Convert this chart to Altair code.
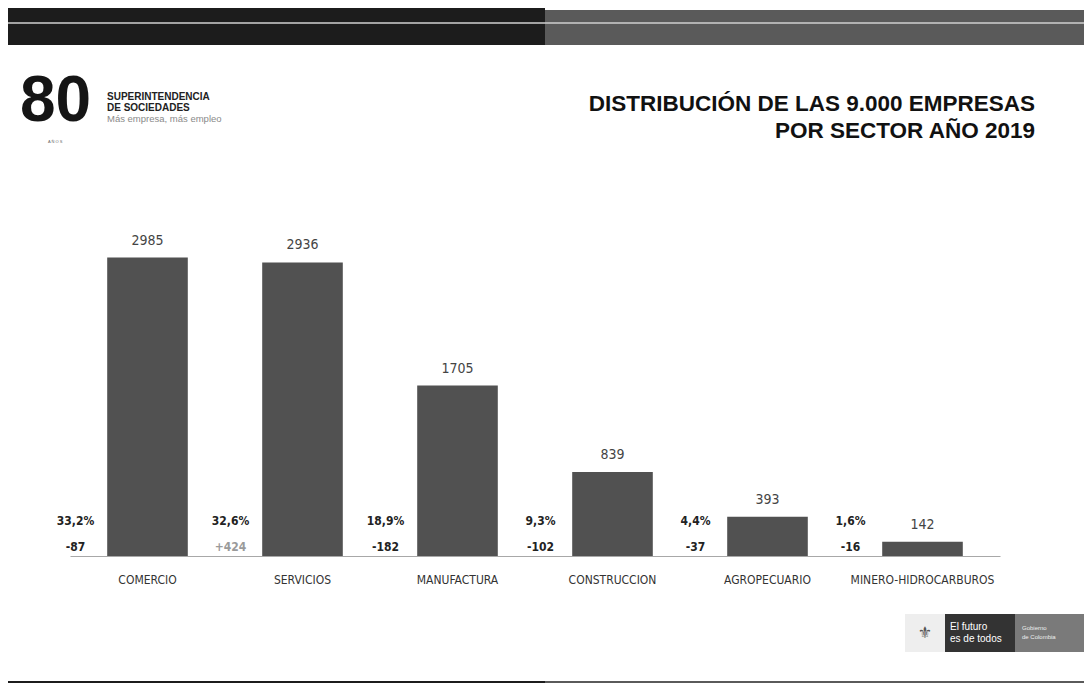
import altair as alt
import pandas as pd

sectores = ["COMERCIO", "SERVICIOS", "MANUFACTURA", "CONSTRUCCION", "AGROPECUARIO", "MINERO-HIDROCARBUROS"]
empresas = [2985, 2936, 1705, 839, 393, 142]
participacion = ["33,2%", "32,6%", "18,9%", "9,3%", "4,4%", "1,6%"]
variacion = [-87, 424, -182, -102, -37, -16]

def fmt_var(v):
    return f"+{v}" if v > 0 else str(v)

df = pd.DataFrame({
    "sector": sectores,
    "empresas": empresas,
    "pct": participacion,
    "var": variacion,
    "var_txt": [fmt_var(v) for v in variacion],
})

NARROW = "Liberation Sans Narrow, Arial Narrow, DejaVu Sans Condensed, sans-serif"
SANS = "Liberation Sans, Arial, sans-serif"

x = alt.X("sector:N", sort=sectores,
          scale=alt.Scale(paddingInner=0.48, paddingOuter=0.24),
          axis=alt.Axis(title=None, labelAngle=0, ticks=False, domainColor="#a8a8a8",
                        domainWidth=1.2, labelPadding=18, labelFontSize=12,
                        labelFont=NARROW, labelColor="#333333"))
y = alt.Y("empresas:Q", scale=alt.Scale(domain=[0, 3560], nice=False), axis=None)

base = alt.Chart(df)

bars = base.mark_bar(color="#515151").encode(x=x, y=y)

values = base.mark_text(baseline="bottom", dy=-10, fontSize=14, font=NARROW, color="#444444").encode(
    x=alt.X("sector:N", sort=sectores), y=y, text="empresas:Q")

pct = base.mark_text(dx=-72, fontSize=12, fontWeight="bold", font=NARROW, color="#222222",
                     baseline="middle").encode(
    x=alt.X("sector:N", sort=sectores), y=alt.value(321), text="pct:N")

var = base.mark_text(dx=-72, fontSize=12, fontWeight="bold", font=NARROW,
                     baseline="middle").encode(
    x=alt.X("sector:N", sort=sectores), y=alt.value(347), text="var_txt:N",
    color=alt.condition(alt.datum["var"] > 0, alt.value("#9a9a9a"), alt.value("#222222")))

# decorative frame / header elements
def rect(x1, x2, y1, y2, color):
    return alt.Chart(pd.DataFrame({"a": [0]})).mark_rect(color=color).encode(
        x=alt.value(x1), x2=alt.value(x2), y=alt.value(y1), y2=alt.value(y2))

def txt(s, xp, yp, size, weight="normal", color="#111111", align="left", font=SANS):
    return alt.Chart(pd.DataFrame({"t": [s]})).mark_text(
        align=align, baseline="middle", fontSize=size, fontWeight=weight, color=color, font=font
    ).encode(x=alt.value(xp), y=alt.value(yp), text="t:N")

deco = [
    rect(-62, 475, -192, -155, "#1c1c1c"),
    rect(475, 1014, -190, -155, "#5a5a5a"),
    alt.Chart(pd.DataFrame({"a": [0]})).mark_rule(color="#d0d0d0", strokeWidth=1.5).encode(
        x=alt.value(-62), x2=alt.value(1014), y=alt.value(-177)),
    rect(-62, 475, 481, 490, "#1c1c1c"),
    rect(475, 1014, 481, 490, "#5a5a5a"),
    txt("DISTRIBUCIÓN DE LAS 9.000 EMPRESAS", 965, -96, 22.5, "bold", "#111111", "right"),
    txt("POR SECTOR AÑO 2019", 965, -69, 22.5, "bold", "#111111", "right"),
    txt("80", -50, -98, 64, "bold", "#151515"),
    txt("SUPERINTENDENCIA", 37, -103, 10, "bold", "#222222"),
    txt("DE SOCIEDADES", 37, -92, 10, "bold", "#222222"),
    txt("Más empresa, más empleo", 37, -81, 9.5, "normal", "#8a8a8a"),
    txt("A Ñ O S", -22, -58, 4, "normal", "#666666"),
    rect(835, 875, 414, 452, "#eeeeee"),
    rect(875, 945, 414, 452, "#333333"),
    rect(945, 1014, 414, 452, "#7a7a7a"),
    txt("El futuro", 880, 427, 10, "normal", "#ffffff"),
    txt("es de todos", 880, 439, 10, "normal", "#ffffff"),
    txt("Gobierno", 952, 428, 6, "normal", "#eeeeee"),
    txt("de Colombia", 952, 437, 6, "normal", "#eeeeee"),
    txt("⚜", 855, 433, 16, "normal", "#555555", "center", "DejaVu Sans"),
]

chart = alt.layer(bars, values, pct, var, *deco).properties(
    width=930, height=356,
    padding={"left": 62, "top": 192, "right": 84, "bottom": 127},
    autosize=alt.AutoSizeParams(type="none"),
    background="#ffffff",
).configure_view(stroke=None)

chart.save("out.html", embed_options={"renderer": "svg", "actions": False})
